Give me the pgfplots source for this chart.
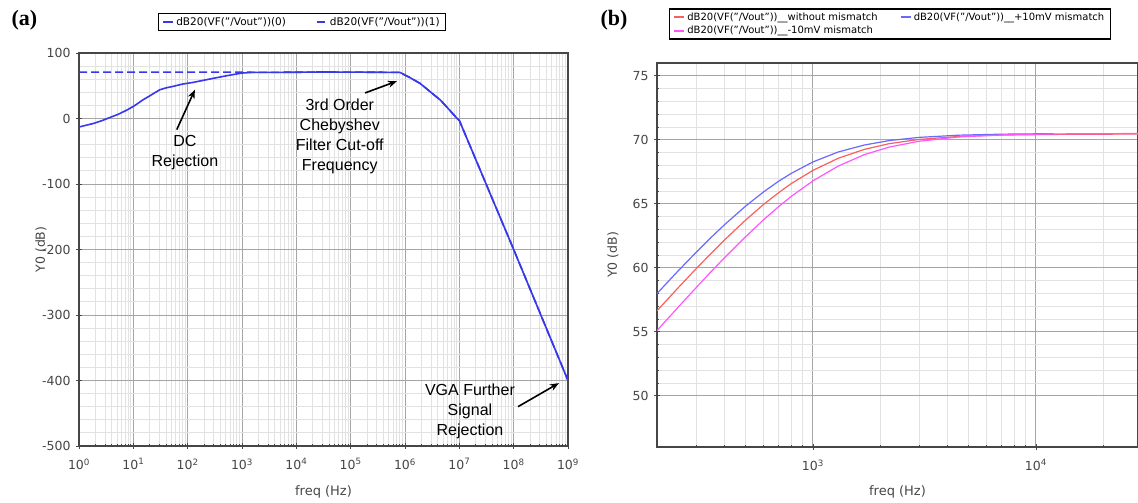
\documentclass[border=0pt]{standalone}
\usepackage{fontspec}
\setmainfont{DejaVu Sans}
\newfontfamily\arialfont{Liberation Sans}
\newfontfamily\timesfont{Liberation Serif}
\usepackage{pgfplots}
\pgfplotsset{compat=1.18}
\usetikzlibrary{arrows.meta}

\definecolor{gridmaj}{RGB}{165,165,165}
\definecolor{gridmin}{RGB}{226,226,226}
\definecolor{tickgray}{RGB}{70,70,70}
\definecolor{curveA}{RGB}{55,55,235}
\definecolor{curveBlue}{RGB}{105,105,255}
\definecolor{curveRed}{RGB}{250,95,95}
\definecolor{curveMag}{RGB}{255,85,255}

\tikzset{
  annot/.style={font=\arialfont\fontsize{16}{20}\selectfont, align=center, text=black},
  arr/.style={-{Stealth[length=9pt, width=7pt]}, line width=1.6pt, black},
}

\pgfplotsset{
  legend image code/.code={\draw[#1, line width=2pt] (0pt,0pt) -- (10pt,0pt);},
  simax/.style={
    scale only axis,
    grid=both,
    major grid style={gridmaj, line width=0.9pt},
    minor grid style={gridmin, line width=0.8pt},
    axis line style={tickgray, line width=1.3pt},
    tick style={tickgray, line width=0.8pt},
    major tick length=6pt, minor tick length=3pt,
    tick align=center,
    xtick pos=bottom, ytick pos=left,
    xticklabel style={font=\fontsize{12.5}{14}\selectfont, text=tickgray, yshift=-6pt},
    yticklabel style={font=\fontsize{12.5}{14}\selectfont, text=tickgray, xshift=-2pt},
    xlabel style={font=\fontsize{13}{15}\selectfont, text=tickgray},
    ylabel style={font=\fontsize{12.5}{15}\selectfont, text=tickgray},
    /pgf/number format/assume math mode=true,
    legend cell align=left,
    legend style={draw=black, line width=1.3pt, fill=white,
      inner xsep=4pt, inner ysep=2pt},
  },
}

\begin{document}
\begin{tikzpicture}
\useasboundingbox (0,0) rectangle (1138pt,503pt);

% ---- (a) full response
\begin{axis}[xmode=log, simax,
  at={(79pt,57pt)}, anchor=south west,
  width=489pt, height=393pt,
  xmin=1, xmax=1e9, ymin=-500, ymax=100,
  xtick={1,10,100,1000,1e4,1e5,1e6,1e7,1e8,1e9},
  xticklabels={10\textsuperscript{0},10\textsuperscript{1},10\textsuperscript{2},10\textsuperscript{3},10\textsuperscript{4},10\textsuperscript{5},10\textsuperscript{6},10\textsuperscript{7},10\textsuperscript{8},10\textsuperscript{9}},
  minor xtick={2,3,4,5,6,7,8,9,20,30,40,50,60,70,80,90,200,300,400,500,600,700,800,900,2000,3000,4000,5000,6000,7000,8000,9000,2e4,3e4,4e4,5e4,6e4,7e4,8e4,9e4,2e5,3e5,4e5,5e5,6e5,7e5,8e5,9e5,2e6,3e6,4e6,5e6,6e6,7e6,8e6,9e6,2e7,3e7,4e7,5e7,6e7,7e7,8e7,9e7,2e8,3e8,4e8,5e8,6e8,7e8,8e8,9e8},
  ytick={-500,-400,-300,-200,-100,0,100},
  minor y tick num=4,
  xlabel={freq (Hz)}, ylabel={Y0 (dB)},
  every axis x label/.append style={at={(axis description cs:0.5,-0.117)}, anchor=center},
  every axis y label/.append style={at={(axis description cs:-0.078,0.5)}, anchor=center},
  legend columns=2,
  legend style={at={(axis description cs:0.456,1.079)}, anchor=center,
    font=\fontsize{10.5}{13}\selectfont,
    /tikz/every even column/.append style={column sep=28pt}},
]
\addplot[curveA, line width=1.6pt] coordinates {
  (1,-13) (1.84,-7.6) (2.7,-3) (3.7,1.5) (5.3,6.5) (7.55,12.7) (10.5,19.5)
  (15.1,28.6) (20,34.5) (25,39.5) (30.9,43.9) (40,46.8) (53.7,49) (80,52.5)
  (126,55.1) (257,60.3) (525,65.3) (1000,69.4) (1585,70.5) (5000,70.5)
  (1e4,70.6) (3e4,71) (1e5,70.8) (3e5,70.6) (6e5,70.4) (8.1e5,70.3)
  (1.26e6,62) (1.9e6,53.5) (2.8e6,42) (4.5e6,28) (7.1e6,10) (9.1e6,0)
  (1e7,-3) (1e8,-200) (1e9,-400)
};
\addlegendentry{dB20(VF("/Vout"))(0)}
\addplot[curveA, line width=1.6pt, dash pattern=on 8pt off 4pt] coordinates {
  (1,70.7) (1000,70.7) (1585,70.5) (5000,70.5) (1e4,70.6) (3e4,71)
  (1e5,70.8) (3e5,70.6) (6e5,70.4) (8.1e5,70.3) (1.26e6,62) (1.9e6,53.5)
  (2.8e6,42) (4.5e6,28) (7.1e6,10) (9.1e6,0) (1e7,-3) (1e8,-200) (1e9,-400)
};
\addlegendentry{dB20(VF("/Vout"))(1)}

\node[annot] at (axis cs:89,-52) {DC\\Rejection};
\draw[arr] (axis cs:63,-17) -- (axis cs:136,44);
\node[annot] at (axis cs:6.3e4,-28) {3rd Order\\Chebyshev\\Filter Cut-off\\Frequency};
\draw[arr] (axis cs:1.84e5,39) -- (axis cs:7.1e5,57);
\node[annot] at (axis cs:1.57e7,-447) {VGA Further\\Signal\\Rejection};
\draw[arr] (axis cs:1.2e8,-440) -- (axis cs:6.8e8,-404);
\end{axis}

% ---- (b) zoom on the low-frequency corner
\begin{axis}[xmode=log, simax,
  at={(657pt,56pt)}, anchor=south west,
  width=481pt, height=384pt,
  xmin=200, xmax=28700, ymin=46, ymax=76,
  xtick={1000,10000},
  xticklabels={10\textsuperscript{3},10\textsuperscript{4}},
  minor xtick={200,300,400,500,600,700,800,900,2000,3000,4000,5000,6000,7000,8000,9000,20000},
  ytick={50,55,60,65,70,75},
  minor y tick num=4,
  xlabel={freq (Hz)}, ylabel={Y0 (dB)},
  every axis x label/.append style={at={(axis description cs:0.5,-0.117)}, anchor=center},
  every axis y label/.append style={at={(axis description cs:-0.0915,0.5)}, anchor=center},
  legend columns=2,
  legend style={at={(axis description cs:0.484,1.1016)}, anchor=center,
    font=\fontsize{10}{12.5}\selectfont,
    /tikz/every even column/.append style={column sep=20pt}},
]
\addplot[curveRed, line width=1.2pt] coordinates {
  (200,56.64) (250,58.48) (300,59.94) (350,61.14) (400,62.15) (500,63.74)
  (600,64.94) (700,65.85) (800,66.58) (1000,67.61) (1300,68.56) (1700,69.25)
  (2200,69.70) (3000,70.03) (4500,70.26) (7000,70.37) (12000,70.42) (28700,70.45)
};
\addlegendentry{dB20(VF("/Vout"))\_\_without mismatch}
\addplot[curveBlue, line width=1.2pt] coordinates {
  (200,57.99) (250,59.80) (300,61.22) (350,62.38) (400,63.34) (500,64.83)
  (600,65.92) (700,66.75) (800,67.38) (1000,68.27) (1300,69.05) (1700,69.59)
  (2200,69.94) (3000,70.19) (4500,70.36) (7000,70.44) (12000,70.48)
};
\addlegendentry{dB20(VF("/Vout"))\_\_+10mV mismatch}
\addplot[curveMag, line width=1.2pt] coordinates {
  (200,55.10) (250,56.96) (300,58.46) (350,59.71) (400,60.76) (500,62.44)
  (600,63.74) (700,64.76) (800,65.58) (1000,66.79) (1300,67.95) (1700,68.84)
  (2200,69.43) (3000,69.89) (4500,70.22) (7000,70.38) (12000,70.46) (28700,70.49)
};
\addlegendentry{dB20(VF("/Vout"))\_\_-10mV mismatch}
\end{axis}

\node[font=\timesfont\bfseries\fontsize{22}{24}\selectfont, anchor=west] at (8pt,483pt) {(a)};
\node[font=\timesfont\bfseries\fontsize{22}{24}\selectfont, anchor=west] at (597pt,483pt) {(b)};
\end{tikzpicture}
\end{document}
